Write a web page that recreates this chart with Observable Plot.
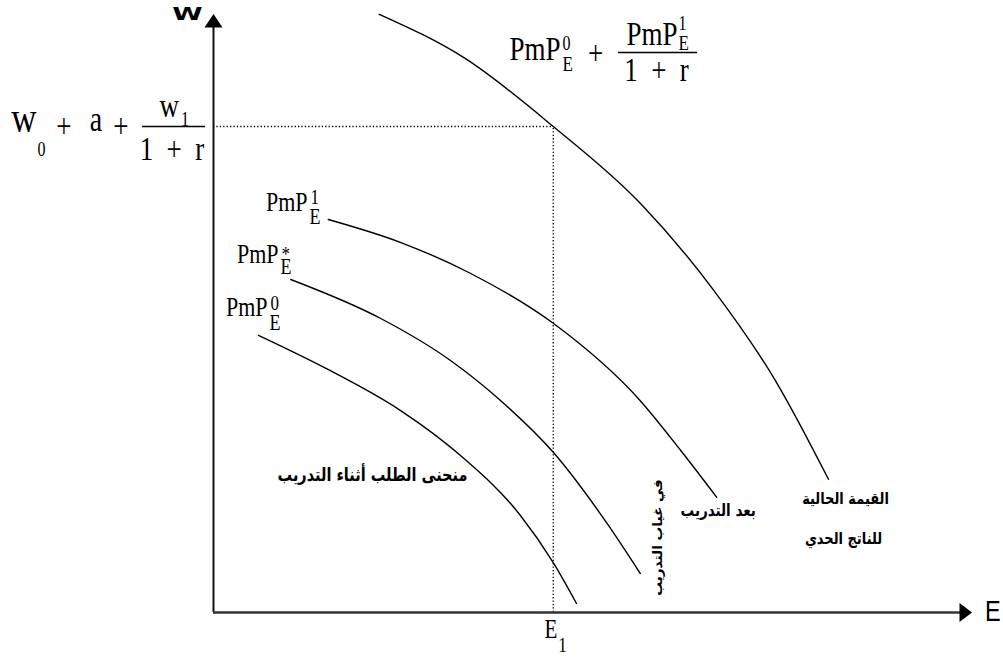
<!DOCTYPE html>
<html>
<head>
<meta charset="utf-8">
<script src="https://cdn.jsdelivr.net/npm/d3@7"></script>
<script src="https://cdn.jsdelivr.net/npm/@observablehq/plot@0.6"></script>
<style>
  html, body { margin: 0; padding: 0; background: #fff; }
  #chart svg { display: block; overflow: visible; }
</style>
</head>
<body>
<div id="chart"></div>
<script>
// Employment (E) on the horizontal axis, wage / marginal product value (W) on the vertical.

// Present value of the marginal product over both periods: PmP_E^0 + PmP_E^1/(1+r)
const pvE = [22.1, 33.6, 45.3, 56.9, 66.7, 74.9, 82.0];
const pvW = [99.7, 92.3, 81.0, 68.2, 53.7, 38.7, 22.2];

// Marginal product after training: PmP_E^1
const mp1E = [15.3, 24.9, 34.3, 45.3, 56.9, 62.3, 67.1];
const mp1W = [65.5, 61.7, 56.5, 48.2, 35.3, 27.0, 19.2];

// Marginal product without training: PmP_E^*
const mpsE = [10.3, 22.3, 31.6, 38.3, 45.3, 52.5, 56.9];
const mpsW = [55.5, 49.0, 42.0, 35.3, 26.7, 14.8, 6.5];

// Marginal product during training: PmP_E^0
const mp0E = [6.0, 15.6, 24.9, 32.9, 40.9, 45.3, 48.4];
const mp0W = [46.2, 40.3, 33.7, 26.2, 16.2, 8.3, 1.5];

// Equilibrium employment and the wage w0 + a + w1/(1+r)
const E1 = 45.3;
const W1 = 81.0;

const toPoints = (es, ws) => es.map((e, i) => ({e, w: ws[i]}));

const serif = "'Liberation Serif', 'Times New Roman', serif";
const sans = "'Liberation Sans', Arial, sans-serif";
const arabic = "'DejaVu Sans', sans-serif";

// one piece of a composite math label, positioned relative to an anchor point
function piece(x, y, t, {dx = 0, dy = 0, size = 22, anchor = "start", family = serif, weight = "normal", rotate = 0} = {}) {
  return Plot.text([{x, y, t}], {
    x: "x", y: "y", text: "t", dx, dy, rotate,
    fontSize: size, fontFamily: family, fontWeight: weight,
    textAnchor: anchor, lineAnchor: "middle", fill: "black"
  });
}

// filled arrowheads for the axes
const arrowRight = {draw(ctx) { ctx.moveTo(6.5, 0); ctx.lineTo(-6, -9.5); ctx.lineTo(-6, 9.5); ctx.closePath(); }};
const arrowUp = {draw(ctx) { ctx.moveTo(0, -7.5); ctx.lineTo(-9, 6); ctx.lineTo(9, 6); ctx.closePath(); }};

const curve = (pts) => Plot.line(pts, {x: "e", y: "w", curve: "monotone-x", stroke: "#000", strokeWidth: 1.4});

// label "PmP" with superscript and subscript, joined at the anchor
const pmp = (x, y, sup, {size = 22, subSize = 18, supDy = -5, subDy = 14} = {}) => [
  piece(x, y, "PmP", {anchor: "end", dx: -1, size}),
  piece(x, y, sup, {dx: 2, dy: supDy, size: subSize - 1}),
  piece(x, y, "E", {dx: 1, dy: subDy, size: subSize})
];

const chart = Plot.plot({
  width: 1003,
  height: 657,
  marginLeft: 213,
  marginRight: 40,
  marginTop: 12,
  marginBottom: 45,
  x: {domain: [0, 100], axis: null},
  y: {domain: [0, 100], axis: null},
  style: {background: "#fff", overflow: "visible"},
  marks: [
    // guide lines at the equilibrium
    Plot.ruleY([W1], {x1: 0, x2: E1, stroke: "#000", strokeWidth: 1.3, strokeDasharray: "1.3,2.1"}),
    Plot.ruleX([E1], {y1: 0, y2: W1, stroke: "#000", strokeWidth: 1.3, strokeDasharray: "1.3,2.1"}),

    // the four curves
    curve(toPoints(pvE, pvW)),
    curve(toPoints(mp1E, mp1W)),
    curve(toPoints(mpsE, mpsW)),
    curve(toPoints(mp0E, mp0W)),

    // axes
    Plot.ruleX([0], {y1: 0, y2: 98, stroke: "#111", strokeWidth: 2}),
    Plot.ruleY([0], {x1: 0, x2: 99.8, stroke: "#333", strokeWidth: 2.5}),
    Plot.dot([{x: 0, y: 98.5}], {x: "x", y: "y", symbol: arrowUp, fill: "#000", stroke: null}),
    Plot.dot([{x: 100.27, y: 0}], {x: "x", y: "y", symbol: arrowRight, fill: "#000", stroke: null}),
    piece(-3.47, 99.67, "W", {anchor: "middle", size: 19, family: "'DejaVu Sans', sans-serif", weight: "bold"}),
    piece(103.9, 0.2, "E", {anchor: "middle", size: 23.5, family: sans}),

    // E1 tick label
    piece(E1, 0, "E", {anchor: "end", dx: 4, dy: 17, size: 21}),
    piece(E1, 0, "1", {dx: 5, dy: 33, size: 17}),

    // w0 + a + w1/(1+r)
    piece(-5.27, W1, "w", {anchor: "middle", dx: -150, dy: -9, size: 35}),
    piece(-5.27, W1, "0", {dx: -136.5, dy: 23, size: 16}),
    piece(-5.27, W1, "+", {anchor: "middle", dx: -110, dy: 0, size: 27}),
    piece(-5.27, W1, "a", {anchor: "middle", dx: -78, dy: -7, size: 28}),
    piece(-5.27, W1, "+", {anchor: "middle", dx: -53, dy: 0, size: 27}),
    piece(-5.27, W1, "w", {anchor: "end", dx: 5, dy: -20, size: 27}),
    piece(-5.27, W1, "1", {dx: 7, dy: -7, size: 16}),
    Plot.ruleY([W1], {x1: -9.47, x2: -1.07, stroke: "#000", strokeWidth: 1.3}),
    piece(-5.27, W1, "1\u2002+\u2002r", {anchor: "middle", dx: -2, dy: 23, size: 27}),

    // PmP_E^0 + PmP_E^1/(1+r)
    piece(59.2, 93.33, "PmP", {anchor: "end", dx: -97, dy: -3, size: 27}),
    piece(59.2, 93.33, "0", {dx: -95, dy: -9, size: 16}),
    piece(59.2, 93.33, "E", {dx: -95, dy: 12, size: 17}),
    piece(59.2, 93.33, "+", {anchor: "middle", dx: -62, dy: 1, size: 27}),
    piece(59.2, 93.33, "PmP", {anchor: "end", dx: 20, dy: -18, size: 27}),
    piece(59.2, 93.33, "1", {dx: 21, dy: -29, size: 16}),
    piece(59.2, 93.33, "E", {dx: 21, dy: -9, size: 17}),
    Plot.ruleY([93.33], {x1: 54, x2: 64.53, stroke: "#000", strokeWidth: 1.3}),
    piece(59.2, 93.33, "1\u2002+\u2002r", {anchor: "middle", dx: -1, dy: 18, size: 27}),

    // curve names
    ...pmp(12.67, 68.33, "1", {supDy: -5, subDy: 14}),
    ...pmp(8.8, 59.67, "*", {supDy: 0, subDy: 12}),
    ...pmp(7.33, 50.83, "0", {supDy: -4, subDy: 15}),

    // Arabic captions
    piece(21.2, 22.83, "منحنى الطلب أثناء التدريب", {anchor: "middle", size: 14.5, family: arabic, weight: "bold"}),
    piece(67.3, 17.0, "بعد التدريب", {anchor: "middle", size: 13.5, family: arabic, weight: "bold"}),
    piece(84.27, 19.0, "القيمة الحالية", {anchor: "middle", size: 13, family: arabic, weight: "bold"}),
    piece(84.0, 12.33, "للناتج الحدي", {anchor: "middle", size: 13, family: arabic, weight: "bold"}),
    piece(59.2, 12.5, "في غياب التدريب", {anchor: "middle", size: 13, family: arabic, weight: "bold", rotate: -90})
  ]
});

// the lettering is drawn tall and narrow: stretch each label along its own vertical
const stretch = 1.25;
chart.querySelectorAll('g[aria-label="text"] text').forEach((t) => {
  const x = +t.getAttribute("x") || 0;
  const y = +t.getAttribute("y") || 0;
  const tr = t.getAttribute("transform") || "";
  let s = `scale(1,${stretch})`;
  if (t.textContent === "W") s = "scale(1.45,0.95)";
  else if (tr.includes("rotate")) s = "scale(1.05,1)";
  t.setAttribute("transform", `${tr} translate(${x},${y}) ${s} translate(${-x},${-y})`);
});

document.getElementById("chart").appendChild(chart);
</script>
</body>
</html>
